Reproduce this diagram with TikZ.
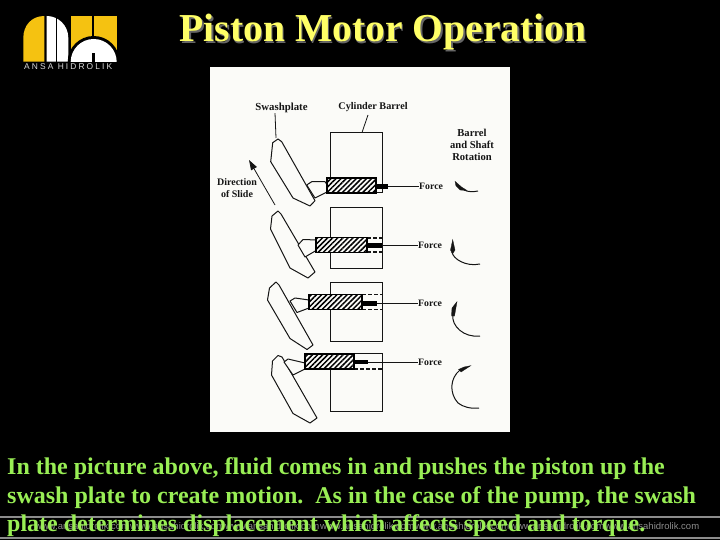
\documentclass[tikz,border=0pt]{standalone}
\usepackage{fontspec}
\setmainfont{Liberation Serif}
\newfontfamily\logofont[LetterSpace=25]{Liberation Sans}
\newfontfamily\footfont{Liberation Sans}
\usetikzlibrary{patterns.meta,arrows.meta}
\definecolor{logoyellow}{HTML}{F5C211}
\definecolor{titleyellow}{HTML}{FFFF66}
\definecolor{bodygreen}{HTML}{99EE55}
\definecolor{papercol}{HTML}{FBFBF8}
\definecolor{inkcol}{HTML}{151515}
\tikzset{
  titletext/.style={anchor=base,inner sep=0,font=\fontsize{39.6}{39.6}\selectfont\bfseries},
  bodytext/.style={anchor=base west,inner sep=0,text=bodygreen,font=\fontsize{24}{24}\selectfont\bfseries},
  footertext/.style={anchor=base west,inner sep=0,text=black!45,font=\footfont\fontsize{9.5}{9.5}\selectfont},
  lab/.style={inner sep=0,text=inkcol,font=\fontsize{9.2}{9.2}\selectfont\bfseries},
  barrelbox/.style={draw=inkcol,line width=1pt,minimum width=52pt,minimum height=59pt,inner sep=0,fill=papercol},
  pistonbox/.style={draw=black,line width=1.6pt,inner sep=0,minimum height=15pt,minimum width=50pt,
     preaction={fill=papercol},
     pattern={Lines[angle=45,distance=3.6pt,line width=1.5pt]},pattern color=black},
  plate/.style={draw=inkcol,line width=1pt,fill=papercol,line join=round},
  rod/.style={draw=black,line width=4.4pt},
  lead/.style={draw=inkcol,line width=0.8pt},
  dashline/.style={draw=inkcol,line width=1.1pt,dash pattern=on 4pt off 2pt},
  rotarc/.style={draw=inkcol,line width=1pt},
  rothead/.style={fill=inkcol,draw=inkcol,line width=0.3pt},
}
\begin{document}
\begin{tikzpicture}[x=1pt,y=-1pt]
\useasboundingbox (0,0) rectangle (720,540);
\fill[black] (0,0) rectangle (720,540);
% logo
\fill[logoyellow] (23.3,61.7) -- (23.3,38) .. controls (23.3,25) and (32,16) .. (44.3,16) -- (44.3,61.7) -- cycle;
\fill[white] (46.7,16) .. controls (58,16) and (68.3,25) .. (68.3,38) -- (68.3,61.7) -- (46.7,61.7) -- cycle;
\fill[black] (55.5,16) rectangle (57,61.7);
\fill[logoyellow] (70.7,16) rectangle (116.7,52);
\fill[black] (91.7,16) rectangle (94.3,38);
\begin{scope}
\clip (60,16) rectangle (125,61.7);
\fill[black] (93.7,62) circle[radius=26];
\fill[white] (93.7,62) circle[radius=23];
\end{scope}
\fill[black] (91.7,53) rectangle (95,61.7);
\node[inner sep=0,anchor=base west,text=black!15,font=\logofont\fontsize{8.4}{8.4}\selectfont] (logotext) at (24,69.3) {ANSA HIDROLIK};
% title
\node[titletext,text=black!60] (titleshadow) at (384.5,44) {Piston Motor Operation};
\node[titletext,text=titleyellow] (title) at (383,42) {Piston Motor Operation};
% paper
\fill[papercol] (210,67) rectangle (510,432);
% labels
\node[lab,font=\fontsize{10.8}{10.8}\selectfont\bfseries] (swash) at (281.5,108) {Swashplate};
\node[lab,font=\fontsize{10.2}{10.2}\selectfont\bfseries] (cyl) at (373,107.5) {Cylinder Barrel};
\node[lab,font=\fontsize{10.6}{10.6}\selectfont\bfseries] (rot1) at (472,133) {Barrel};
\node[lab,font=\fontsize{10.6}{10.6}\selectfont\bfseries] (rot2) at (472,145) {and Shaft};
\node[lab,font=\fontsize{10.6}{10.6}\selectfont\bfseries] (rot3) at (472,157) {Rotation};
\node[lab,font=\fontsize{10}{10}\selectfont\bfseries] (dir1) at (237,182) {Direction};
\node[lab,font=\fontsize{10}{10}\selectfont\bfseries] (dir2) at (237,194) {of Slide};
% barrels
\node[barrelbox,minimum height=60pt] (b1) at (356,163) {};
\node[barrelbox,minimum height=60pt] (b2) at (356,238) {};
\node[barrelbox,minimum height=59pt] (b3) at (356,311.5) {};
\node[barrelbox,minimum height=58pt] (b4) at (356,382) {};
% dashes in barrels
\coordinate (d2a) at (367,238); \coordinate (d2b) at (367,252);
\coordinate (d3a) at (362,294.5); \coordinate (d3b) at (362,309.5);
\coordinate (d4b) at (354,369);
\draw[dashline] (d2a) -- (d2a -| b2.east);
\draw[dashline] (d2b) -- (d2b -| b2.east);
\draw[dashline] (d3a) -- (d3a -| b3.east);
\draw[dashline] (d3b) -- (d3b -| b3.east);
\draw[dashline] (d4b) -- (d4b -| b4.east);
% leaders to barrel
\coordinate (cylend) at (362,132.5);
\draw[lead] (368,115) -- (cylend);
% plate 1
\draw[plate] (278,139) -- (272.7,142.7) -- (270.7,161.7) -- (293,198) -- (310,206) -- (315,200.7) -- (281.7,141.7) -- cycle;
\draw[plate] (306.7,185) -- (311.7,181.7) -- (325,181.7) -- (328,186) -- (327,192) -- (315,198) -- cycle;
% plate 2
\draw[plate] (278,211) -- (272,216) -- (270.5,229) -- (290,268) -- (308,278) -- (315,272) -- (281,214) -- cycle;
\draw[plate] (298,245) -- (303,239.5) -- (317,240) -- (317,250) -- (305,257) -- cycle;
% plate 3
\draw[plate] (276,282) -- (269.5,288) -- (267.5,300) -- (290,338.5) -- (307,349.5) -- (313,345) -- (279,285) -- cycle;
\draw[plate] (290,301) -- (295,298) -- (309,300) -- (309,308) -- (297,312.5) -- cycle;
% plate 4
\draw[plate] (278,355.5) -- (272.5,361) -- (271.5,375) -- (293,413.5) -- (310,423) -- (317,418) -- (282,357) -- cycle;
\draw[plate] (284,362) -- (288,359) -- (305,363) -- (305,369) -- (293,375) -- cycle;
% pistons
\node[pistonbox,minimum width=49pt] (p1) at (351.5,185.5) {};
\node[pistonbox,minimum width=51pt] (p2) at (341.5,245) {};
\node[pistonbox,minimum width=53pt] (p3) at (335.5,302) {};
\node[pistonbox,minimum width=49pt] (p4) at (329.5,361.5) {};
% force labels
\node[lab,anchor=west,font=\fontsize{9.8}{9.8}\selectfont\bfseries] (f1) at (419,186.5) {Force};
\node[lab,anchor=west,font=\fontsize{9.8}{9.8}\selectfont\bfseries] (f2) at (418,245.5) {Force};
\node[lab,anchor=west,font=\fontsize{9.8}{9.8}\selectfont\bfseries] (f3) at (418,303.5) {Force};
\node[lab,anchor=west,font=\fontsize{9.8}{9.8}\selectfont\bfseries] (f4) at (418,362) {Force};
% rods and force lines
\coordinate (r1) at (388,186.5); \coordinate (r2) at (382,245.5);
\coordinate (r3) at (377,303.5); \coordinate (r4) at (368,362);
\draw[rod] (p1.east |- r1) -- (r1);
\draw[rod] (p2.east |- r2) -- (r2);
\draw[rod] (p3.east |- r3) -- (r3);
\draw[rod] (p4.east |- r4) -- (r4);
\draw[lead] (r1) -- (f1.west);
\draw[lead] (r2) -- (f2.west);
\draw[lead] (r3) -- (f3.west);
\draw[lead] (r4) -- (f4.west);
% leader to swashplate and slide arrow
\coordinate (swashend) at (276,138);
\draw[lead] (swash.south -| 275,0) -- (swashend);
\coordinate (slidestart) at (275,205);
\coordinate (slidetip) at (249,160);
\draw[lead,-{Triangle[length=10pt,width=6.5pt]}] (slidestart) -- (slidetip);
% rotation arcs
\fill[rothead] (455,181.3) -- (461.5,187) -- (467,190.5) -- (460,190) -- (456,186) -- cycle;
\draw[rotarc] (464,190) .. controls (468,192) and (473,192) .. (478,191);
\fill[rothead] (452.7,239.7) -- (455,250) -- (452.5,254) -- (450.5,250) -- cycle;
\draw[rotarc] (452,252) .. controls (453,259) and (466,267) .. (480,264);
\fill[rothead] (457,301.7) -- (454.5,316) -- (451.5,316) -- (452,308) -- cycle;
\draw[rotarc] (452.8,314) .. controls (451,326) and (464,338) .. (480,336);
\fill[rothead] (470.7,365.7) -- (461,372) -- (458.5,369.5) -- (464,367) -- cycle;
\draw[rotarc] (460,370) .. controls (450,378) and (449,393) .. (458,403) .. controls (463,407) and (471,409) .. (479,408);
% footer
\draw[line width=1.8pt,black!45] (0,516.7) -- (720,516.7);
\draw[line width=1.8pt,black!45] (0,537.8) -- (720,537.8);
\node[footertext] (foot1) at (35,529) {www.ansahidrolik.com};
\node[footertext] (foot2) at (130,529) {www.ansahidrolik.com};
\node[footertext] (foot3) at (225,529) {www.ansahidrolik.com};
\node[footertext] (foot4) at (320,529) {www.ansahidrolik.com};
\node[footertext] (foot5) at (415,529) {www.ansahidrolik.com};
\node[footertext] (foot6) at (510,529) {www.ansahidrolik.com};
\node[footertext] (foot7) at (605,529) {www.ansahidrolik.com};
% body text
\node[bodytext] (l1) at (7,474) {In the picture above, fluid comes in and pushes the piston up the};
\node[bodytext] (l2) at (7,503) {swash plate to create motion.\ \ As in the case of the pump, the swash};
\node[bodytext] (l3) at (7,531.5) {plate determines displacement which affects speed and torque.};
\end{tikzpicture}
\end{document}
